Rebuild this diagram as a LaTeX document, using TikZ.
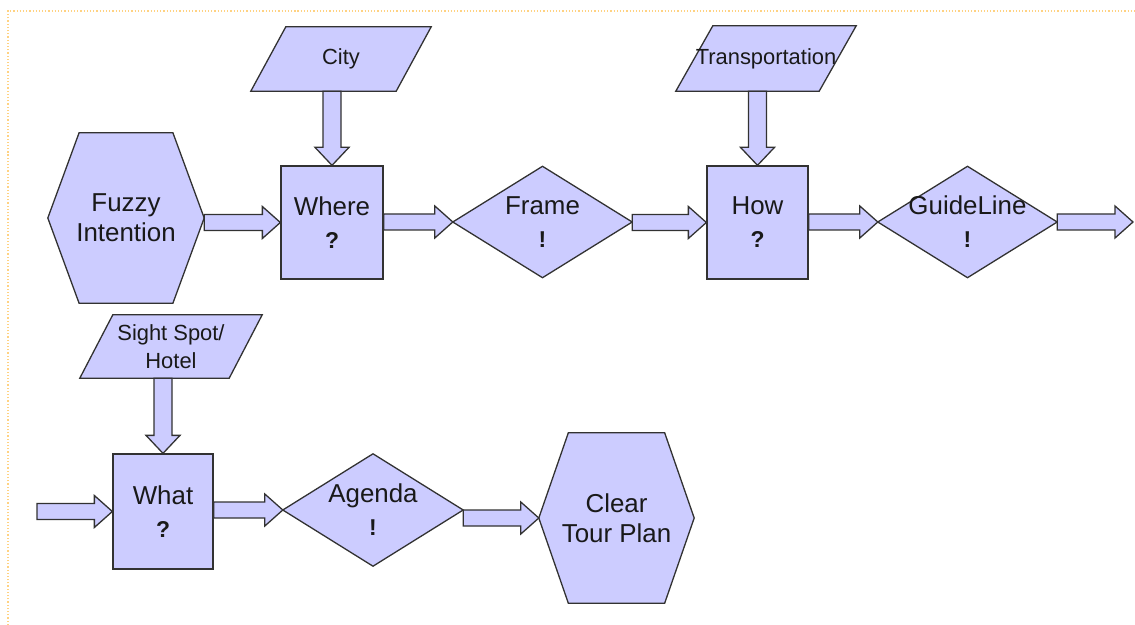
\documentclass[tikz,border=0pt]{standalone}
\usepackage{fontspec}
\setmainfont{Liberation Sans}
\usetikzlibrary{calc,backgrounds}
\definecolor{lav}{RGB}{204,204,255}
\definecolor{edge}{RGB}{50,50,50}
\definecolor{frameline}{RGB}{255,210,130}
\newcommand\myhex[2]{\draw[shp] (#1.west) -- ($(#1.north west)!#2!(#1.north east)$) -- ($(#1.north east)!#2!(#1.north west)$) -- (#1.east) -- ($(#1.south east)!#2!(#1.south west)$) -- ($(#1.south west)!#2!(#1.south east)$) -- cycle;}
\newcommand\mydiam[1]{\draw[shp] (#1.west) -- (#1.north) -- (#1.east) -- (#1.south) -- cycle;}
\newcommand\mypara[2]{\draw[shp] ($(#1.north west)+(#2,0)$) -- (#1.north east) -- ($(#1.south east)-(#2,0)$) -- (#1.south west) -- cycle;}
\newcommand\mymark[1]{{\fontsize{23}{30}\selectfont\bfseries #1}}
\tikzset{
  shp/.style={draw=edge, fill=lav, line width=1.3bp, line join=miter},
  txt/.style={inner sep=0pt, align=center, text=black!90, font=\fontsize{26}{30}\selectfont},
  small/.style={inner sep=0pt, align=center, text=black!90, font=\fontsize{22}{28}\selectfont},
  rectbox/.style={txt, shp},
  harrow/.style={shp, to path={let \p1=(\tikztostart), \p2=(\tikztotarget) in
    ({\x1},{\y2+8bp}) -- ({\x2-18bp},{\y2+8bp}) -- ({\x2-18bp},{\y2+16bp}) -- (\x2,\y2) -- ({\x2-18bp},{\y2-16bp}) -- ({\x2-18bp},{\y2-8bp}) -- ({\x1},{\y2-8bp}) -- cycle}},
  varrow/.style={shp, to path={let \p1=(\tikztostart), \p2=(\tikztotarget) in
    ({\x2+9bp},{\y1}) -- ({\x2+9bp},{\y2+18bp}) -- ({\x2+17bp},{\y2+18bp}) -- (\x2,\y2) -- ({\x2-17bp},{\y2+18bp}) -- ({\x2-9bp},{\y2+18bp}) -- ({\x2-9bp},{\y1}) -- cycle}},
}
\begin{document}
\begin{tikzpicture}[x=1bp,y=-1bp]
\useasboundingbox (0,0) rectangle (1135,625);
\draw[frameline, dotted, line width=1.2bp] (8,625) -- (8,11) -- (1135,11);

% nodes
\node[txt, minimum width=156bp, minimum height=170bp] (fuzzy) at (126,218) {Fuzzy\\Intention};
\node[rectbox, minimum width=102bp, minimum height=113bp] (where) at (332,222.5) {Where\\[3pt]\mymark{?}};
\node[txt, minimum width=179bp, minimum height=111bp] (frame) at (542.5,222) {Frame\\[3pt]\mymark{!}};
\node[rectbox, minimum width=101bp, minimum height=113bp] (how) at (757.5,222.5) {How\\[3pt]\mymark{?}};
\node[txt, minimum width=179bp, minimum height=111bp] (guide) at (967.5,222) {GuideLine\\[3pt]\mymark{!}};
\node[small, minimum width=180bp, minimum height=64bp] (city) at (341,59) {City};
\node[small, minimum width=180bp, minimum height=65bp] (trans) at (766,58.5) {Transportation};
\node[small, minimum width=182bp, minimum height=63bp] (sight) at (171,346.5) {Sight Spot/\\Hotel};
\node[rectbox, minimum width=100bp, minimum height=115bp] (what) at (163,511.5) {What\\[3pt]\mymark{?}};
\node[txt, minimum width=180bp, minimum height=112bp] (agenda) at (373,510) {Agenda\\[3pt]\mymark{!}};
\node[txt, minimum width=155bp, minimum height=170bp] (clear) at (616.5,518) {Clear\\Tour Plan};
\coordinate (outR) at (1133,222);
\coordinate (inL) at (37,511.5);

% shapes
\begin{scope}[on background layer]
\myhex{fuzzy}{0.2}
\myhex{clear}{0.19}
\mydiam{frame}
\mydiam{guide}
\mydiam{agenda}
\mypara{city}{35}
\mypara{trans}{37}
\mypara{sight}{33}
\end{scope}

% connectors
\draw[harrow] (fuzzy.east) to (where.west);
\draw[harrow] (where.east) to (frame.west);
\draw[harrow] (frame.east) to (how.west);
\draw[harrow] (how.east) to (guide.west);
\draw[harrow] (guide.east) to (outR);
\draw[varrow] (city.south) to (where.north);
\draw[varrow] (trans.south) to (how.north);
\draw[varrow] (sight.south) to (what.north);
\draw[harrow] (inL) to (what.west);
\draw[harrow] (what.east) to (agenda.west);
\draw[harrow] (agenda.east) to (clear.west);
\end{tikzpicture}
\end{document}
